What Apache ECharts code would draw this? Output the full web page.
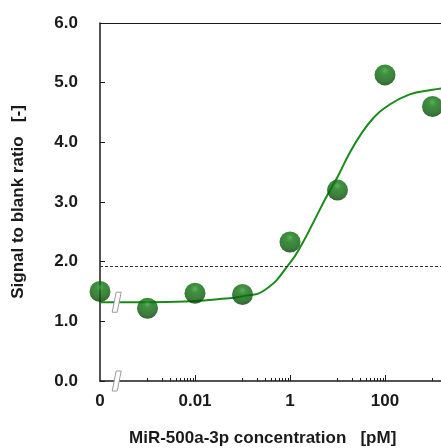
<!DOCTYPE html>
<html>
<head>
<meta charset="utf-8">
<script src="https://cdn.jsdelivr.net/npm/echarts@6/dist/echarts.min.js"></script>
<style>
  html, body { margin: 0; padding: 0; background: #fff; }
  #chart { width: 441px; height: 448px; }
</style>
</head>
<body>
<div id="chart"></div>
<script>
// measured points (x = 1e-4 stands for the "0" sample)
const pointX = [1e-4, 1e-3, 1e-2, 1e-1, 1, 10, 100, 1000];
const pointY = [1.50, 1.22, 1.47, 1.45, 2.33, 3.20, 5.13, 4.60];

// fitted curve
const curveX = [1e-4, 1e-3, 1e-2, 0.03, 0.1, 0.3, 1, 1.8, 3.2, 5.6, 10, 18, 32, 56, 100, 320, 1000, 1800];
const curveY = [1.32, 1.32, 1.34, 1.37, 1.42, 1.53, 1.98, 2.30, 2.68, 3.06, 3.42, 3.82, 4.15, 4.40, 4.58, 4.80, 4.88, 4.91];

// blank + 3SD threshold
const cutoff = 1.92;

// axis break positions
const breakX = 2.3e-4;
const breakY = [0, 1.32];

// x range (the plot runs on past the right edge of the picture)
const xMin = 1e-4;
const xMax = 1510;

// ticks / labels
const labelValues = [1e-4, 1e-2, 1, 100];
const labelText = { '0.0001': '0', '0.01': '0.01', '1': '1', '100': '100' };
const majorTicks = [1e-2, 1, 100];
const minorDecades = [-3, -1, 1, 3];
const minorTicks = [];
minorDecades.forEach(function (d) {
    for (let k = 1; k <= 9; k++) {
        const v = +(k * Math.pow(10, d)).toPrecision(3);
        if (v <= xMax) minorTicks.push(v);
    }
});

const font = 'Liberation Sans, Arial, sans-serif';
const ink = '#1a1a1a';

const chart = echarts.init(document.getElementById('chart'));

const ball = {
    type: 'radial', x: 0.5, y: 0.3, r: 0.72,
    colorStops: [
        { offset: 0, color: '#35a035' },
        { offset: 0.25, color: '#107510' },
        { offset: 0.7, color: '#0a5e0a' },
        { offset: 1, color: '#053805' }
    ]
};

const option = {
    animation: false,
    grid: { left: 100, top: 23, right: 0, bottom: 67 },
    xAxis: [{
        type: 'log',
        logBase: 10,
        min: xMin,
        max: xMax,
        axisLine: { lineStyle: { color: ink, width: 1.5 } },
        splitLine: { show: false },
        axisTick: {
            inside: true, length: 6, customValues: majorTicks,
            lineStyle: { color: ink, width: 1 }
        },
        axisLabel: {
            customValues: labelValues,
            formatter: function (v) {
                const key = String(+v.toPrecision(3));
                return labelText[key] !== undefined ? labelText[key] : '';
            },
            margin: 12,
            color: ink,
            fontFamily: font,
            fontWeight: 'bold',
            fontSize: 17
        }
    }, {
        // minor ticks
        type: 'log',
        logBase: 10,
        min: xMin,
        max: xMax,
        position: 'bottom',
        axisLine: { show: false },
        splitLine: { show: false },
        axisLabel: { show: false },
        axisTick: {
            inside: true, length: 3, customValues: minorTicks,
            lineStyle: { color: ink, width: 1 }
        }
    }, {
        // top frame line
        type: 'log',
        logBase: 10,
        min: xMin,
        max: xMax,
        position: 'top',
        axisLine: { lineStyle: { color: ink, width: 1 } },
        splitLine: { show: false },
        axisLabel: { show: false },
        axisTick: { show: false }
    }],
    yAxis: {
        type: 'value',
        min: 0,
        max: 6,
        interval: 1,
        name: 'Signal to blank ratio   [-]',
        nameLocation: 'middle',
        nameGap: 73,
        nameTextStyle: {
            color: ink, fontFamily: font, fontWeight: 'bold', fontSize: 17
        },
        axisLine: { show: true, lineStyle: { color: ink, width: 1.5 } },
        axisTick: { inside: true, length: 5, lineStyle: { color: ink } },
        splitLine: { show: false },
        axisLabel: {
            formatter: function (v) { return v.toFixed(1); },
            margin: 22,
            color: ink,
            fontFamily: font,
            fontWeight: 'bold',
            fontSize: 17
        }
    },
    graphic: [{
        type: 'text',
        left: 129,
        top: 430,
        style: {
            text: 'MiR-500a-3p concentration   [pM]',
            fill: ink,
            font: 'bold 17px ' + font
        }
    }],
    series: [{
        type: 'line',
        data: curveX.map(function (x, i) { return [x, curveY[i]]; }),
        smooth: 0.5,
        showSymbol: false,
        clip: false,
        lineStyle: { color: '#1a8a1a', width: 2 },
        markLine: {
            silent: true,
            symbol: 'none',
            label: { show: false },
            lineStyle: { color: '#333', width: 1, type: [3, 2] },
            data: [{ yAxis: cutoff }]
        },
        z: 2
    }, {
        type: 'custom',
        data: breakY.map(function (y) { return [breakX, y]; }),
        renderItem: function (params, api) {
            const p = api.coord([api.value(0), api.value(1)]);
            return {
                type: 'polygon',
                shape: {
                    points: [
                        [p[0] - 5, p[1] + 10], [p[0] - 1, p[1] - 10],
                        [p[0] + 4, p[1] - 10], [p[0], p[1] + 10]
                    ]
                },
                style: { fill: '#fff', stroke: '#9a9a9a', lineWidth: 1 }
            };
        },
        clip: false,
        z: 3
    }, {
        type: 'scatter',
        data: pointX.map(function (x, i) { return [x, pointY[i]]; }),
        symbol: 'circle',
        symbolSize: 21,
        clip: false,
        itemStyle: { color: ball },
        z: 4
    }]
};

chart.setOption(option);
</script>
</body>
</html>
